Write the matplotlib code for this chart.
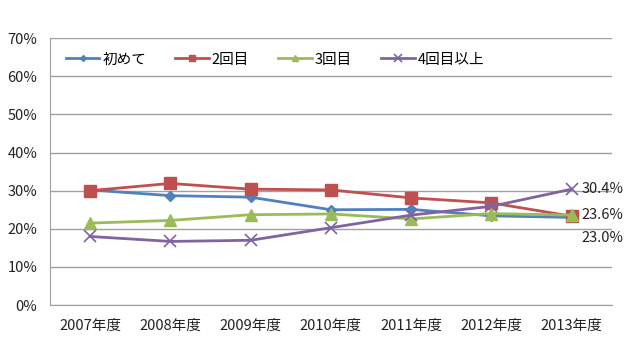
import matplotlib
matplotlib.use("Agg")
from matplotlib import pyplot as plt
from matplotlib.ticker import PercentFormatter

plt.rcParams['font.family'] = ['Noto Sans CJK JP', 'DejaVu Sans']

# Datos
anios = ["2007年度", "2008年度", "2009年度", "2010年度", "2011年度", "2012年度", "2013年度"]
hajimete = [30.2, 28.7, 28.3, 25.0, 25.1, 23.4, 23.0]
nikaime = [30.0, 31.9, 30.4, 30.2, 28.1, 26.8, 23.3]
sankaime = [21.5, 22.2, 23.7, 23.9, 22.6, 24.0, 23.6]
yonkai_ijou = [18.0, 16.7, 17.0, 20.3, 23.6, 25.9, 30.4]

series = [
    ("初めて", hajimete, "#4F81BD", "D", 5),
    ("2回目", nikaime, "#C0504D", "s", 8),
    ("3回目", sankaime, "#9BBB59", "^", 8),
    ("4回目以上", yonkai_ijou, "#8064A2", "x", 9),
]

fig = plt.figure(figsize=(6.4, 3.59), dpi=100)
ax = fig.add_axes([0.078, 0.150, 0.878, 0.744])

x = list(range(len(anios)))
for nombre, valores, color, marcador, ms in series:
    ax.plot(x, valores, color=color, marker=marcador, markersize=ms,
            linewidth=2, label=nombre, markeredgewidth=1 if marcador != "x" else 1.2)

# Etiquetas de la derecha
ax.annotate(f"{yonkai_ijou[-1]:.1f}%", (x[-1], yonkai_ijou[-1]), xytext=(7, 0),
            textcoords="offset points", va="center", fontsize=10.5, color="#222222")
ax.annotate(f"{sankaime[-1]:.1f}%", (x[-1], sankaime[-1]), xytext=(7, 0),
            textcoords="offset points", va="center", fontsize=10.5, color="#222222")
ax.annotate(f"{hajimete[-1]:.1f}%", (x[-1], hajimete[-1]), xytext=(7, -15),
            textcoords="offset points", va="center", fontsize=10.5, color="#222222")

ax.set_xlim(-0.5, len(anios) - 0.5)
ax.set_ylim(0, 70)
ax.set_yticks(range(0, 71, 10))
ax.yaxis.set_major_formatter(PercentFormatter(decimals=0))
ax.set_xticks(x)
ax.set_xticklabels(anios)
ax.tick_params(axis="both", length=0, labelsize=10.5, colors="#222222")
ax.tick_params(axis="x", pad=10)
ax.tick_params(axis="y", pad=9)

ax.grid(axis="y", color="#A0A0A0", linewidth=1)
ax.grid(axis="x", visible=False)
ax.set_axisbelow(True)
for lado in ["top", "right"]:
    ax.spines[lado].set_visible(False)
ax.spines["left"].set_color("#A0A0A0")
ax.spines["bottom"].set_color("#A0A0A0")

ax.legend(loc="upper left", ncol=4, frameon=False, fontsize=10.5,
          bbox_to_anchor=(0.005, 0.995), columnspacing=2.0, handlelength=2.3,
          handletextpad=0.2, markerscale=0.6)

plt.savefig("out.png", dpi=100)
